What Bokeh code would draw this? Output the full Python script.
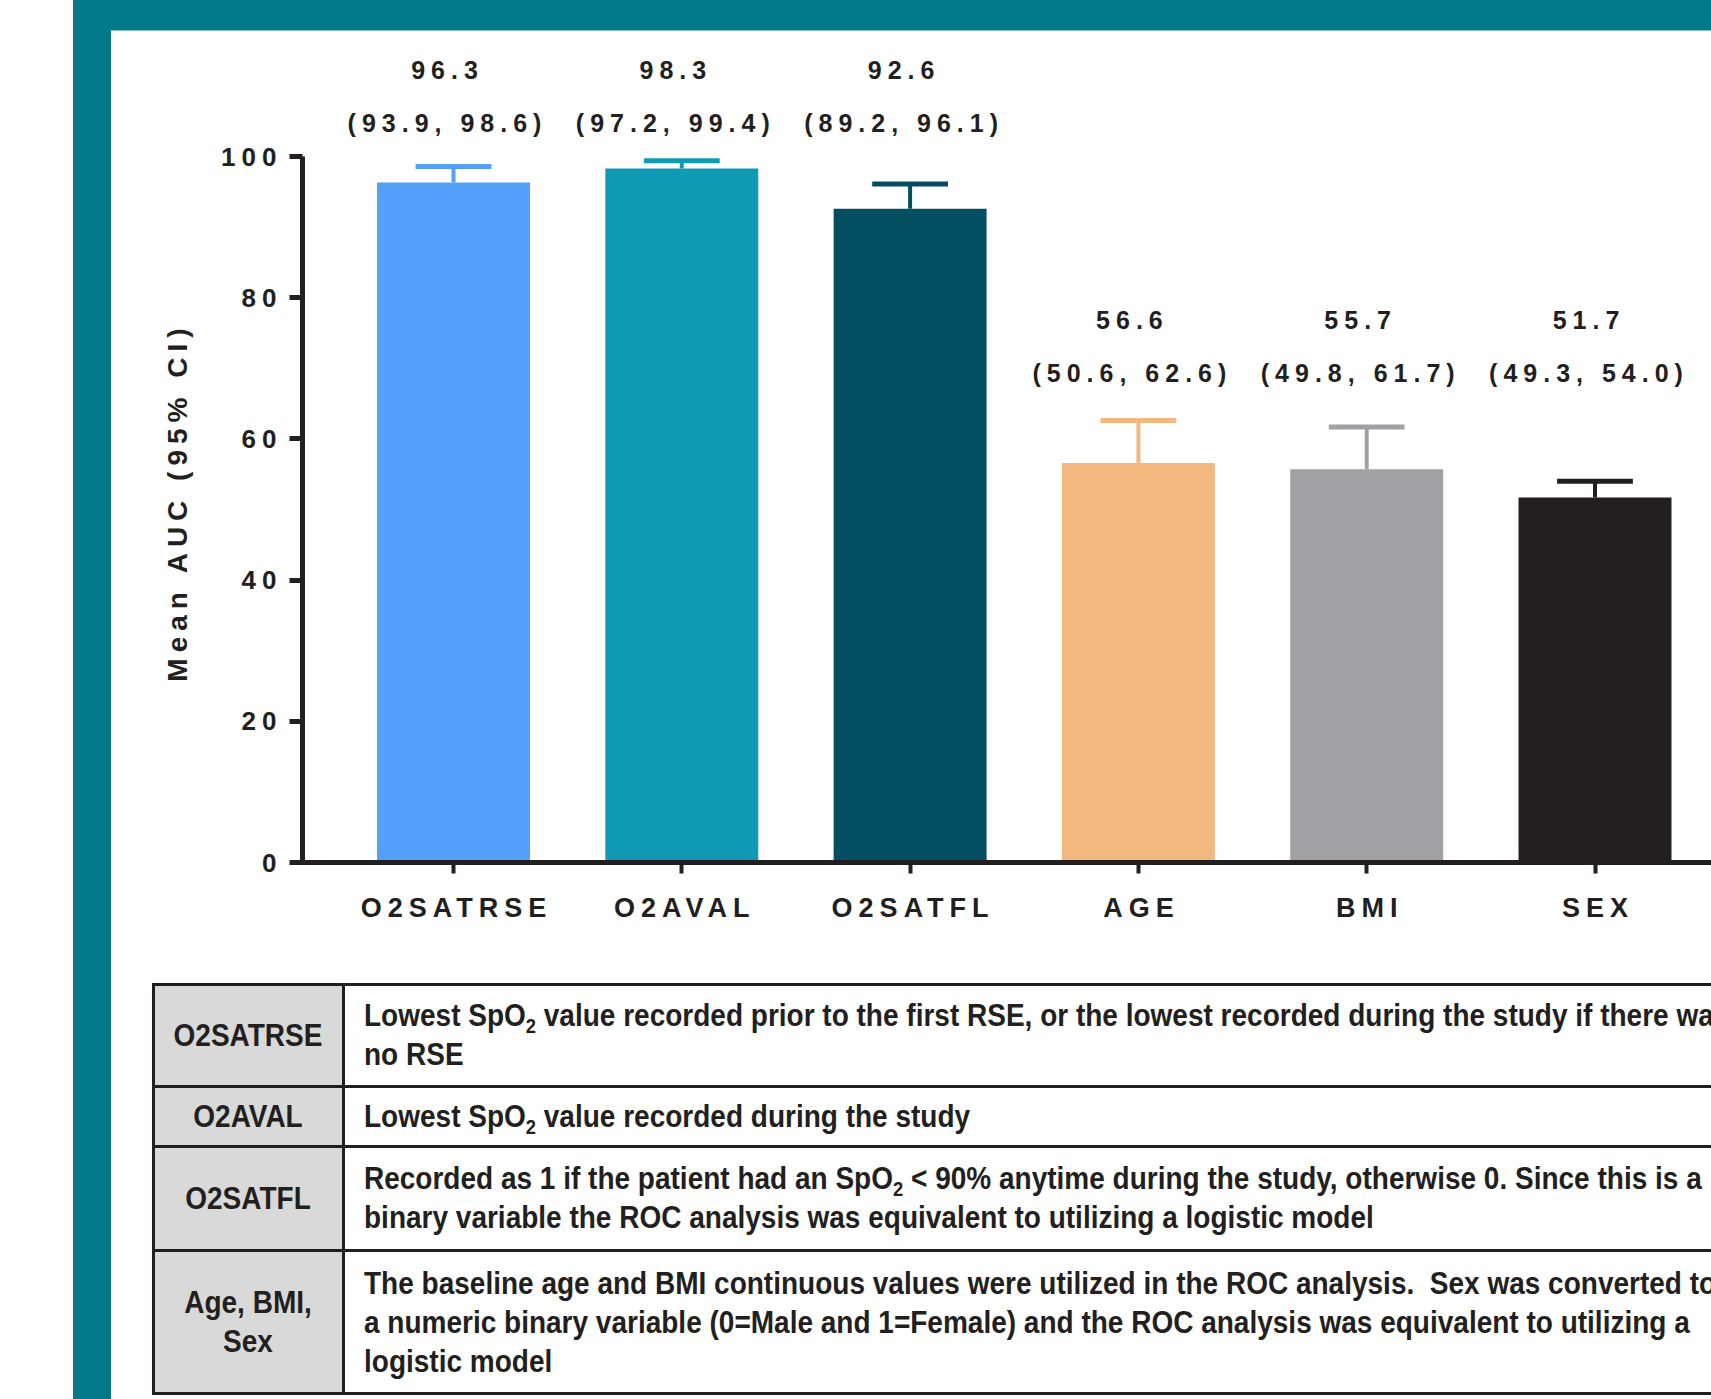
import html as _html
from math import pi
from bokeh.plotting import figure
from bokeh.models import Range1d, FixedTicker, ColumnDataSource, Div
from bokeh.layouts import column
from bokeh.embed import file_html
from bokeh.resources import INLINE
from bokeh.core.properties import value

# ---------------- data ----------------
categories = ["O2SATRSE", "O2AVAL", "O2SATFL", "AGE", "BMI", "SEX"]
mean_auc = [96.3, 98.3, 92.6, 56.6, 55.7, 51.7]
ci_lower = [93.9, 97.2, 89.2, 50.6, 49.8, 49.3]
ci_upper = [98.6, 99.4, 96.1, 62.6, 61.7, 54.0]
bar_colors = ["#55A0FB", "#119AB5", "#034F62", "#F2B880", "#A1A0A4", "#231F20"]
y_ticks = [0, 20, 40, 60, 80, 100]
y_title = "Mean AUC (95% CI)"

table_terms = ["O2SATRSE", "O2AVAL", "O2SATFL", "Age, BMI,\nSex"]
table_desc = [
    "Lowest SpO\u2082 value recorded prior to the first RSE, or the lowest recorded during the study if there was\nno RSE",
    "Lowest SpO\u2082 value recorded during the study",
    "Recorded as 1 if the patient had an SpO\u2082 < 90% anytime during the study, otherwise 0. Since this is a\nbinary variable the ROC analysis was equivalent to utilizing a logistic model",
    "The baseline age and BMI continuous values were utilized in the ROC analysis.  Sex was converted to\na numeric binary variable (0=Male and 1=Female) and the ROC analysis was equivalent to utilizing a\nlogistic model",
]

# ---------------- layout / style constants ----------------
W, H_TOTAL = 1711, 1399
H1 = 965                   # chart part height
TEAL = "#02798A"
INK = "#231F20"
FONT = "Liberation Sans"
LS = 6                     # letter spacing (px) of chart texts

FRAME_L, FRAME_PAD_B = 40, 40
frame_bottom_px = H1 - FRAME_PAD_B
AXIS_X, BASE_Y = 302, 862          # y-axis line x, y=0 line (canvas px)
px_per_cat, px_per_unit, first_center = 228.3, 7.06, 453
BAR_W = 0.67
CAP_HALF = 0.166
LABEL_SHIFT = -9


def x_of(px):
    return (px - first_center) / px_per_cat


def y_of(py):
    return (BASE_Y - py) / px_per_unit


def comp(texts, frac):
    # compensate the extra width that letter-spacing adds to the right
    return [-(len(t) - 1) * LS * frac for t in texts]


p = figure(width=W, height=H1,
           x_range=Range1d(x_of(FRAME_L), x_of(W)),
           y_range=Range1d(y_of(frame_bottom_px), y_of(0)),
           min_border_left=FRAME_L, min_border_right=0, min_border_top=0,
           min_border_bottom=FRAME_PAD_B,
           background_fill_color=None, border_fill_color=None,
           output_backend="svg", toolbar_location=None,
           styles={"letter-spacing": f"{LS}px"})
p.outline_line_color = None
p.grid.visible = False
p.extra_x_ranges = {"px": Range1d(FRAME_L, W)}
p.extra_y_ranges = {"px": Range1d(frame_bottom_px, 0)}

xs = list(range(len(categories)))
high = [m > 75 for m in mean_auc]
ci_label_y = [104.7 if h else 69.4 for h in high]
mean_txt = [f"{m:.1f}" for m in mean_auc]
ci_txt = [f"({l:.1f}, {u:.1f})" for l, u in zip(ci_lower, ci_upper)]
src = ColumnDataSource(dict(
    x=xs, mean=mean_auc, upper=ci_upper, color=bar_colors,
    cap_l=[x - CAP_HALF for x in xs], cap_r=[x + CAP_HALF for x in xs],
    mean_txt=mean_txt, ci_txt=ci_txt,
    my=[y + 7.5 for y in ci_label_y], cy=ci_label_y,
    mo=[o + LABEL_SHIFT for o in comp(mean_txt, 0.5)],
    co=[o + LABEL_SHIFT for o in comp(ci_txt, 0.5)],
    cat=categories, cat_o=comp(categories, 0.5),
))

p.vbar(x="x", top="mean", bottom=0, width=BAR_W, fill_color="color", line_color=None, source=src)
p.segment(x0="x", y0="mean", x1="x", y1="upper", line_color="color", line_width=4, source=src)
p.segment(x0="cap_l", y0="upper", x1="cap_r", y1="upper", line_color="color", line_width=5, source=src)

txt_style = dict(text_font=value(FONT), text_font_style="bold", text_color=INK, text_baseline="middle")
p.text(x="x", y="my", text="mean_txt", x_offset="mo", source=src, text_font_size="25px",
       text_align="center", **txt_style)
p.text(x="x", y="cy", text="ci_txt", x_offset="co", source=src, text_font_size="25px",
       text_align="center", **txt_style)

# category labels under the x axis
p.text(x="x", y=907, text="cat", x_offset="cat_o", source=src, y_range_name="px",
       text_font_size="27px", text_align="center", **txt_style)

# y tick labels
yt_txt = [str(t) for t in y_ticks]
p.text(x=[276] * len(y_ticks), y=y_ticks, text=yt_txt, x_offset=comp(yt_txt, 1.0),
       x_range_name="px", text_font_size="26px", text_align="right", **txt_style)

# y title (rotated)
p.text(x=[177], y=[504 + (len(y_title) - 1) * LS / 2], text=[y_title], angle=pi / 2,
       x_range_name="px", y_range_name="px", text_font_size="28px", text_align="center", **txt_style)

# axes drawn at fixed positions (their own labels are not painted)
yax = p.yaxis[0]
yax.fixed_location = x_of(AXIS_X)
yax.bounds = (0, 100)
yax.ticker = FixedTicker(ticks=y_ticks)
yax.major_label_text_color = None
yax.major_label_standoff = 0
yax.axis_line_width = 5
yax.axis_line_color = INK
yax.major_tick_line_width = 5
yax.major_tick_line_color = INK
yax.major_tick_out = 13
yax.major_tick_in = 0
yax.minor_tick_line_color = None

xax = p.xaxis[0]
xax.fixed_location = 0
xax.bounds = (x_of(AXIS_X - 2.5), x_of(W))
xax.ticker = FixedTicker(ticks=xs)
xax.major_label_text_color = None
xax.major_label_standoff = 0
xax.axis_line_width = 5
xax.axis_line_color = INK
xax.major_tick_line_width = 4
xax.major_tick_line_color = INK
xax.major_tick_out = 11
xax.major_tick_in = 0
xax.minor_tick_line_color = None

# ---------------- table (HTML) ----------------
H2 = H_TOTAL - H1
TABLE_TOP, TABLE_LEFT, COL_DIV = 984 - H1, 153, 343
DESC_X = 364
row_heights = [102, 60, 104.5, 143]
LINE_H = 39
NARROW = 0.875

bounds = [TABLE_TOP]
for h in row_heights:
    bounds.append(bounds[-1] + h)


def fmt(s):
    s = _html.escape(s)
    return s.replace("\u2082", '<span style="font-size:21px;position:relative;top:7px;">2</span>')


def box(l, t, w, h, bg):
    return (f'<div style="position:absolute;left:{l}px;top:{t}px;width:{w}px;height:{h}px;'
            f'background:{bg};"></div>')


parts = []
for i in range(len(row_heights)):
    parts.append(box(TABLE_LEFT, bounds[i], COL_DIV - TABLE_LEFT, row_heights[i], "#D9D9D9"))
for b in bounds:
    parts.append(box(TABLE_LEFT - 1.5, b - 1.5, W, 3, INK))
for xv in (TABLE_LEFT, COL_DIV):
    parts.append(box(xv - 1.5, bounds[0] - 1.5, 3, bounds[-1] - bounds[0] + 3, INK))

for i, (term, desc) in enumerate(zip(table_terms, table_desc)):
    c = (bounds[i] + bounds[i + 1]) / 2
    tl = term.split("\n")
    for k, line in enumerate(tl):
        y = c + (k - (len(tl) - 1) / 2) * LINE_H
        parts.append(
            f'<div style="position:absolute;left:{TABLE_LEFT}px;width:{COL_DIV - TABLE_LEFT}px;'
            f'top:{y - LINE_H / 2}px;height:{LINE_H}px;line-height:{LINE_H}px;text-align:center;'
            f'white-space:pre;transform:scaleX({NARROW});transform-origin:50% 50%;">{fmt(line)}</div>')
    dl = desc.split("\n")
    for k, line in enumerate(dl):
        y = c + (k - (len(dl) - 1) / 2) * LINE_H
        parts.append(
            f'<div style="position:absolute;left:{DESC_X}px;top:{y - LINE_H / 2}px;height:{LINE_H}px;'
            f'line-height:{LINE_H}px;white-space:pre;transform:scaleX({NARROW});'
            f'transform-origin:0 50%;">{fmt(line)}</div>')

table_html = (f'<div style="position:relative;width:{W}px;height:{H2}px;overflow:hidden;'
              f"font-family:'{FONT}',Arial,sans-serif;font-weight:bold;font-size:32px;"
              f'color:{INK};letter-spacing:0;">' + "".join(parts) + "</div>")
table = Div(text=table_html, width=W, height=H2, margin=0)

frame_css = (f"linear-gradient({TEAL},{TEAL}) 73px 0px / 38px 100% no-repeat, "
             f"linear-gradient({TEAL},{TEAL}) 73px 0px / 100% 30.5px no-repeat, #FFFFFF")
layout = column(p, table, spacing=0, styles={"background": frame_css})
open("out.html", "w").write(file_html(layout, INLINE))
